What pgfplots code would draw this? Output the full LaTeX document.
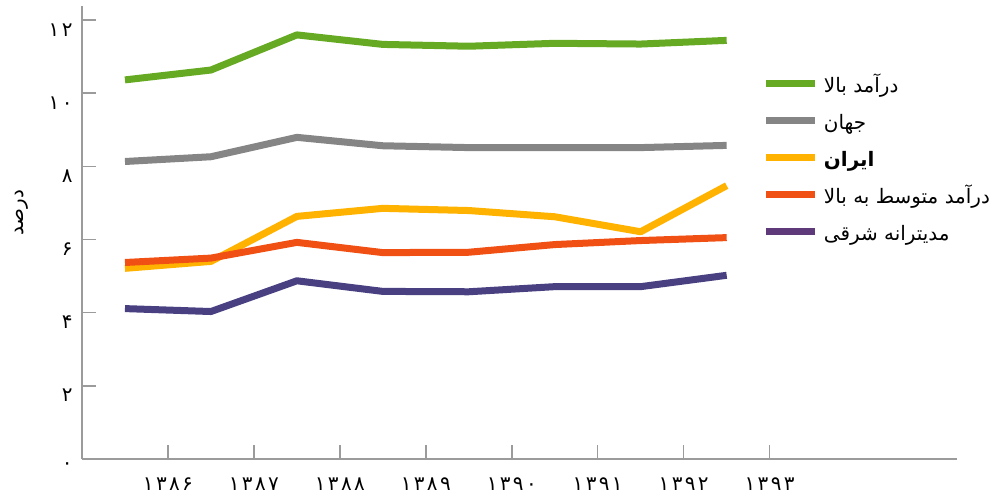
\documentclass[border=0pt]{standalone}
\usepackage{fontspec}
\usepackage{pgfplots}
\pgfplotsset{compat=1.18}
\setmainfont{DejaVu Sans}
\newfontfamily\fa[Script=Arabic]{DejaVu Sans}
\newfontfamily\fadig[Script=Arabic, LetterSpace=12]{DejaVu Sans}
\TeXXeTstate=1

\definecolor{cgreen}{RGB}{102,170,35}
\definecolor{cgray}{RGB}{133,133,133}
\definecolor{cyellow}{RGB}{255,179,0}
\definecolor{corange}{RGB}{240,80,20}
\definecolor{cpurple}{RGB}{72,64,128}
\definecolor{legpurple}{RGB}{94,58,122}
\definecolor{axisgray}{RGB}{155,155,155}

\begin{document}
\begin{tikzpicture}[x=1bp,y=1bp]
\useasboundingbox (0,0) rectangle (997,496);
\begin{axis}[
  at={(82bp,37bp)}, anchor=south west,
  scale only axis, width=875bp, height=453bp,
  xmin=0, xmax=10.18, ymin=0, ymax=12.38,
  axis x line=bottom, axis y line=left,
  axis line style={draw=axisgray, line width=1.5bp, -},
  xtick={1,2,3,4,5,6,7,8},
  xticklabels={۱۳۸۶,۱۳۸۷,۱۳۸۸,۱۳۸۹,۱۳۹۰,۱۳۹۱,۱۳۹۲,۱۳۹۳},
  ytick={0,2,4,6,8,10,12},
  yticklabels={۰,۲,۴,۶,۸,۱۰,۱۲},
  tick align=inside, major tick length=14bp,
  tick style={draw=axisgray, line width=1.5bp},
  ticklabel style={font=\fadig\fontsize{20}{24}\selectfont, text=black},
  xticklabel style={yshift=-15bp},
  yticklabel style={anchor=north east, xshift=-6bp, yshift=0bp},
  ylabel={\fa\beginR درصد\endR},
  ylabel style={at={(axis description cs:-0.0686,0.543)}, anchor=center, font=\fontsize{20}{24}\selectfont},
  legend style={at={(0.778,0.839)}, anchor=north west, draw=none, fill=none,
    inner sep=0pt, column sep=5bp, row sep=20bp,
    font=\fa\fontsize{20}{24}\selectfont,
    nodes={inner sep=0pt, text height=13bp, text depth=4bp}},
  legend cell align=left,
  legend image code/.code={\draw[#1, line width=7bp, line cap=butt] (0bp,4bp) -- (49bp,4bp);},
  every axis plot/.append style={line width=7bp, line join=round, line cap=butt, mark=none},
  clip=false,
]
\addplot[cgreen] coordinates {(0.5,10.36) (1.5,10.63) (2.5,11.59) (3.5,11.33) (4.5,11.28) (5.5,11.36) (6.5,11.34) (7.5,11.44)};
\addlegendentry{\beginR درآمد بالا\endR}
\addplot[cgray] coordinates {(0.5,8.13) (1.5,8.26) (2.5,8.79) (3.5,8.56) (4.5,8.51) (5.5,8.51) (6.5,8.51) (7.5,8.57)};
\addlegendentry{\beginR جهان\endR}
\addplot[cyellow] coordinates {(0.5,5.21) (1.5,5.40) (2.5,6.63) (3.5,6.85) (4.5,6.79) (5.5,6.62) (6.5,6.21) (7.5,7.47)};
\addlegendentry{\bfseries\beginR ایران\endR}
\addplot[corange] coordinates {(0.5,5.37) (1.5,5.49) (2.5,5.92) (3.5,5.64) (4.5,5.65) (5.5,5.86) (6.5,5.97) (7.5,6.05)};
\addlegendentry{\beginR درآمد متوسط به بالا\endR}
\addplot[cpurple, legend image code/.code={\draw[line width=7bp, line cap=butt, legpurple] (0bp,4bp) -- (49bp,4bp);}] coordinates {(0.5,4.11) (1.5,4.03) (2.5,4.87) (3.5,4.58) (4.5,4.57) (5.5,4.71) (6.5,4.71) (7.5,5.02)};
\addlegendentry{\beginR مدیترانه شرقی\endR}
\end{axis}
\end{tikzpicture}
\end{document}
